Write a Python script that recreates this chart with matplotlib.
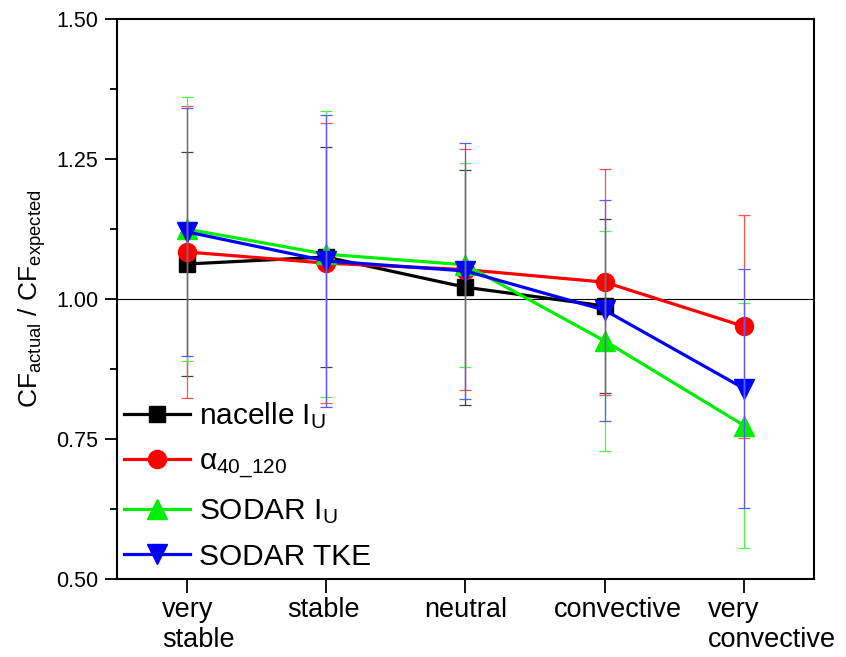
import matplotlib.pyplot as plt
import matplotlib.transforms as mtransforms
import numpy as np
from matplotlib.ticker import MultipleLocator, FormatStrFormatter

plt.rcParams['font.family'] = ['Liberation Sans', 'DejaVu Sans']
plt.rcParams['mathtext.fontset'] = 'custom'
plt.rcParams['mathtext.rm'] = 'Liberation Sans'
plt.rcParams['mathtext.it'] = 'Liberation Sans'

categories = ['very\nstable', 'stable', 'neutral', 'convective', 'very\nconvective']

nacelle = [1.0625, 1.075, 1.021, 0.9875, np.nan]
nacelle_err = [0.200, 0.196, 0.210, 0.155, np.nan]
alpha = [1.084, 1.064, 1.0525, 1.030, 0.951]
alpha_err = [0.261, 0.250, 0.215, 0.2015, 0.199]
sodar_iu = [1.125, 1.080, 1.061, 0.925, 0.774]
sodar_iu_err = [0.236, 0.255, 0.182, 0.196, 0.219]
sodar_tke = [1.120, 1.068, 1.050, 0.980, 0.840]
sodar_tke_err = [0.221, 0.261, 0.229, 0.1975, 0.2135]

x = np.arange(1, 6)

fig = plt.figure(figsize=(8.46, 6.57), dpi=100)
ax = fig.add_axes([0.1383, 0.1187, 0.8237, 0.8524])

ax.axhline(1.0, color='k', lw=0.8, zorder=1)

series = [
    (nacelle, nacelle_err, 'k', '#404040', 's', 12, 'nacelle I$_\\mathrm{U}$'),
    (alpha, alpha_err, '#ff0000', '#ff5050', 'o', 13, '$\\alpha_{\\mathrm{40\\_120}}$'),
    (sodar_iu, sodar_iu_err, '#00ee00', '#50f050', '^', 14, 'SODAR I$_\\mathrm{U}$'),
    (sodar_tke, sodar_tke_err, '#0000ff', '#5a5aff', 'v', 14, 'SODAR TKE'),
]

handles = []
for i, (y, e, c, ec, m, ms, lab) in enumerate(series):
    h, = ax.plot(x, y, color=c, marker=m, ms=ms, lw=2.3, label=lab, zorder=3 + i)
    ax.errorbar(x, y, yerr=e, fmt='none', ecolor=ec, elinewidth=0.9, capsize=4,
                capthick=0.9, zorder=10 + i)
    handles.append(h)

ax.set_xlim(0.5, 5.5)
ax.set_ylim(0.5, 1.5)
ax.set_xticks(x)
ax.set_xticklabels([])
# category labels, left-aligned blocks slightly shifted as in the original
shifts = [12, -3, 0, 13, 28]
trans = mtransforms.blended_transform_factory(ax.transData, ax.transAxes)
for xi, lab, dx in zip(x, categories, shifts):
    t = trans + mtransforms.ScaledTranslation(dx / 100, -0.18, fig.dpi_scale_trans)
    ax.text(xi, 0, lab, transform=t, ha='center', va='top', fontsize=19.5,
            linespacing=1.2, multialignment='left')

ax.yaxis.set_major_locator(MultipleLocator(0.25))
ax.yaxis.set_minor_locator(MultipleLocator(0.125))
ax.yaxis.set_major_formatter(FormatStrFormatter('%.2f'))
ax.tick_params(axis='y', which='major', labelsize=15.5, length=8.5, width=1.3, direction='out', pad=5)
ax.tick_params(axis='y', which='minor', length=5, width=1.3, direction='out')
ax.tick_params(axis='x', which='major', length=10, width=1.3, direction='out', pad=4)
for s in ax.spines.values():
    s.set_linewidth(1.5)

ax.set_ylabel('CF$_\\mathrm{actual}$ / CF$_\\mathrm{expected}$', fontsize=19, labelpad=6)

ax.legend(handles=handles, loc='lower left', bbox_to_anchor=(-0.015, -0.017), frameon=False,
          fontsize=21.5, handlelength=2.2, handletextpad=0.3, labelspacing=0.55,
          borderaxespad=0.2)

fig.savefig('out.png', dpi=100)
